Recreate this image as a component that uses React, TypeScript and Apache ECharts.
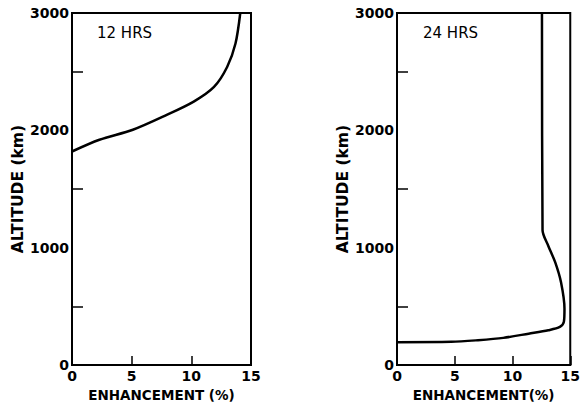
import React, { useEffect, useRef } from "react";
import * as echarts from "echarts";

// 12 HRS profile: [enhancement %, altitude km]
const enh12 = [0, 2.3, 5.1, 7.9, 10.2, 11.9, 13.0, 13.7, 14.1];
const alt12 = [1820, 1920, 2005, 2130, 2245, 2370, 2540, 2740, 3000];

// 24 HRS profile
const enh24 = [0, 4.7, 7.0, 9.2, 11.4, 13.1, 14.1, 14.45, 14.5, 14.2, 13.7, 13.1, 12.6, 12.55];
const alt24 = [195, 198, 212, 232, 268, 297, 325, 370, 480, 705, 875, 1015, 1150, 3000];

const panelTitles = ["12 HRS", "24 HRS"];
const xNames = ["ENHANCEMENT (%)", "ENHANCEMENT(%)"];
const yName = "ALTITUDE (km)";

const FONT = "DejaVu Sans";

export default function App() {
  const ref = useRef<HTMLDivElement>(null);
  useEffect(() => {
    if (!ref.current) return;
    const chart = echarts.init(ref.current, undefined, { renderer: "svg" });
    const grids = [
      { left: 72, top: 13, width: 179, height: 354 },
      { left: 397, top: 13, width: 179, height: 354 },
    ];
    const xAxis = grids.map((_, i) => ({
      type: "value",
      gridIndex: i,
      min: 0,
      max: 15,
      interval: 5,
      name: xNames[i],
      nameLocation: "middle",
      nameGap: 18,
      nameTextStyle: { fontFamily: FONT, fontWeight: "bold", fontSize: 13.5, color: "#000", verticalAlign: "top" },
      axisLine: { show: true, lineStyle: { color: "#000", width: 2 } },
      axisTick: { show: true, inside: true, length: 9, lineStyle: { color: "#000", width: 1.5 } },
      axisLabel: { fontFamily: FONT, fontWeight: "bold", fontSize: 14, color: "#000", margin: 4 },
      splitLine: { show: false },
    }));
    const yAxis = grids.map((_, i) => ({
      type: "value",
      gridIndex: i,
      min: 0,
      max: 3000,
      interval: 1000,
      name: yName,
      nameLocation: "middle",
      nameGap: 46,
      nameRotate: 90,
      nameTextStyle: { fontFamily: FONT, fontWeight: "bold", fontSize: 15.5, color: "#000" },
      axisLine: { show: true, lineStyle: { color: "#000", width: 2 } },
      axisTick: { show: false, inside: true },
      minorTick: { show: true, splitNumber: 2, length: 11, lineStyle: { color: "#000", width: 1.5 } },
      axisLabel: {
        fontFamily: FONT,
        fontWeight: "bold",
        fontSize: 14,
        color: "#000",
        margin: 3,
        formatter: (v: number) => String(v),
      },
      splitLine: { show: false },
    }));
    const mk = (xs: number[], ys: number[]) => xs.map((x, i) => [x, ys[i]]);
    chart.setOption({
      animation: false,
      backgroundColor: "#fff",
      grid: grids.map((g) => ({ ...g, show: true, borderColor: "#000", borderWidth: 2, backgroundColor: "transparent" })),
      xAxis,
      yAxis,
      graphic: [
        { type: "text", left: 97, top: 25, style: { text: panelTitles[0], font: `15px "${FONT}"`, fill: "#000" } },
        { type: "text", left: 423, top: 25, style: { text: panelTitles[1], font: `15px "${FONT}"`, fill: "#000" } },
      ],
      series: [
        {
          type: "line",
          xAxisIndex: 0,
          yAxisIndex: 0,
          data: mk(enh12, alt12),
          showSymbol: false,
          smooth: 0.3,
          lineStyle: { color: "#000", width: 2.5 },
        },
        {
          type: "line",
          xAxisIndex: 1,
          yAxisIndex: 1,
          data: mk(enh24, alt24),
          showSymbol: false,
          smooth: 0.3,
          lineStyle: { color: "#000", width: 2.5 },
        },
      ],
    });
    return () => chart.dispose();
  }, []);
  return <div ref={ref} style={{ position: "fixed", left: 0, top: 0, width: 583, height: 407 }} />;
}
